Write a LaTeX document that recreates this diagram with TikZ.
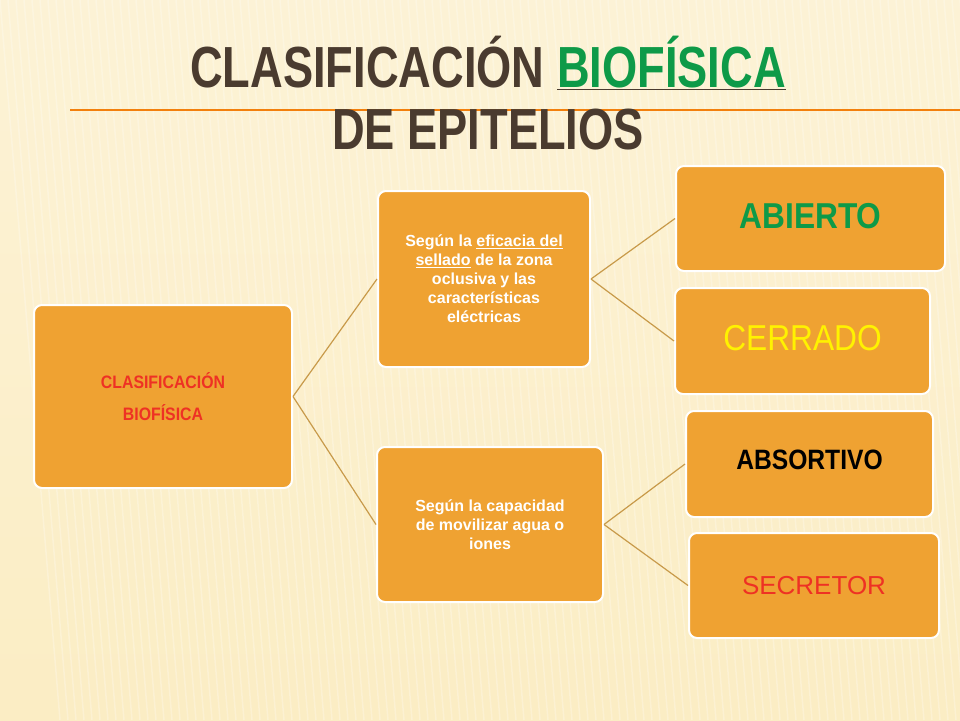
\documentclass[tikz,border=0pt]{standalone}
\usepackage{fontspec}
\setmainfont{Liberation Sans}
\newfontfamily\titlefont[FakeStretch=0.78]{Liberation Sans}
\newfontfamily\narrowfont[FakeStretch=0.88]{Liberation Sans}
\definecolor{bgc}{HTML}{FBEDC4}
\definecolor{boxc}{HTML}{EFA232}
\definecolor{linec}{HTML}{C89A4A}
\definecolor{titc}{HTML}{4A3B2F}
\definecolor{grn}{HTML}{0E9A48}
\definecolor{redc}{HTML}{EE3124}
\tikzset{
 bx/.style={draw=white,line width=2pt,fill=boxc,rounded corners=8pt,anchor=north west,inner sep=2pt,align=center},
 con/.style={draw=linec,line width=1.2pt}
}
\begin{document}
\begin{tikzpicture}[x=1pt,y=-1pt]
\useasboundingbox (0,0) rectangle (960,720);
\fill[top color=bgc!70!white,bottom color=bgc] (0,0) rectangle (960,720);
\foreach \i in {0,8,...,960}{\draw[white,opacity=0.25,line width=1.5pt] (\i,0) -- (\i+60,720);}
\draw[orange!80!brown,line width=1.2pt] (70,110) -- (960,110);
\node[font=\titlefont\bfseries\fontsize{58}{62}\selectfont,text=titc,align=center] (title) at (488,93)
 {CLASIFICACIÓN \underline{\textcolor{grn}{ BIOFÍSICA}}\\DE EPITELIOS};
\node[bx,minimum width=258,minimum height=183,font=\narrowfont\bfseries\fontsize{18}{32}\selectfont,text=redc] (root) at (33,304) {CLASIFICACIÓN\\BIOFÍSICA};
\node[bx,minimum width=212,minimum height=176,font=\bfseries\fontsize{16}{19}\selectfont,text=white] (m1) at (377,190)
 {Según la \underline{eficacia del}\\\underline{sellado} de la zona\\oclusiva y las\\características\\eléctricas};
\node[bx,minimum width=226,minimum height=155,font=\bfseries\fontsize{16}{19}\selectfont,text=white] (m2) at (376,446)
 {Según la capacidad\\de movilizar agua o\\iones};
\node[bx,minimum width=269,minimum height=105,font=\narrowfont\bfseries\fontsize{36}{40}\selectfont,text=grn] (a) at (675,165) {\raisebox{6pt}{ABIERTO}};
\node[bx,minimum width=255,minimum height=106,font=\narrowfont\fontsize{36}{40}\selectfont,text=yellow] (c) at (674,287) {\raisebox{6pt}{CERRADO}};
\node[bx,minimum width=247,minimum height=106,font=\narrowfont\bfseries\fontsize{28}{30}\selectfont,text=black] (ab) at (685,410) {\raisebox{8pt}{ABSORTIVO}};
\node[bx,minimum width=250,minimum height=105,font=\fontsize{26}{30}\selectfont,text=redc] (s) at (688,532) {SECRETOR};
\draw[con] (root.east) -- (m1.west);
\draw[con] (root.east) -- (m2.west);
\draw[con] (m1.east) -- (a.west);
\draw[con] (m1.east) -- (c.west);
\draw[con] (m2.east) -- (ab.west);
\draw[con] (m2.east) -- (s.west);
\end{tikzpicture}
\end{document}
